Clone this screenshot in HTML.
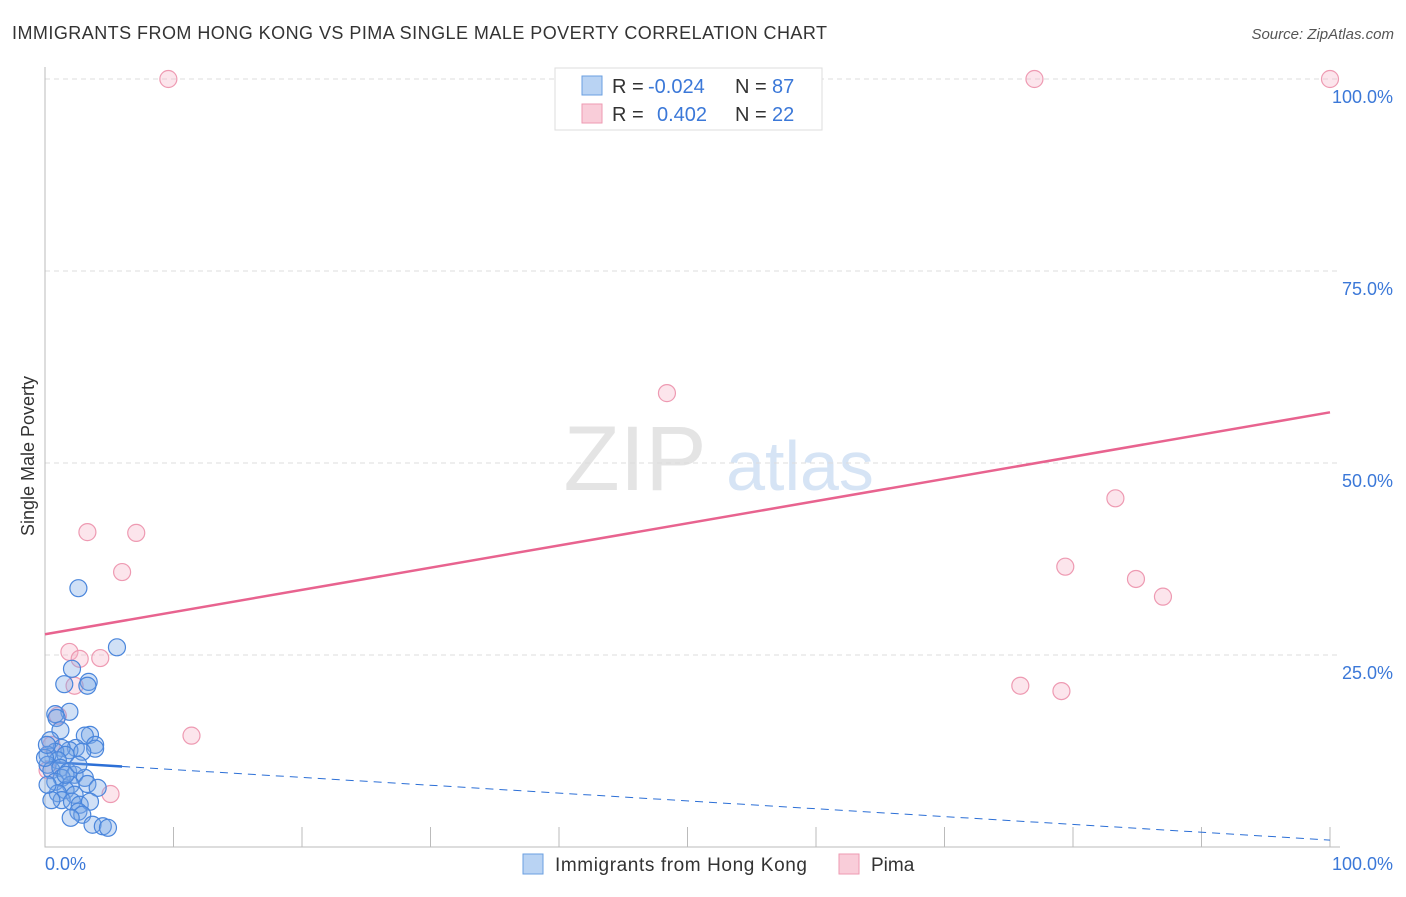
<!DOCTYPE html>
<html><head><meta charset="utf-8"><style>
body{margin:0;background:#fff;font-family:"Liberation Sans",sans-serif;}
svg text{font-family:"Liberation Sans",sans-serif;}
</style></head><body>
<svg width="1406" height="892" viewBox="0 0 1406 892">
<text x="12" y="39" font-size="18" fill="#333" textLength="815">IMMIGRANTS FROM HONG KONG VS PIMA SINGLE MALE POVERTY CORRELATION CHART</text>
<text x="1394" y="39" font-size="15" fill="#555" font-style="italic" text-anchor="end">Source: ZipAtlas.com</text>
<text x="635" y="490" font-size="92" fill="#e4e4e4" font-family="Liberation Serif" text-anchor="middle">ZIP</text>
<text x="800" y="490" font-size="70" fill="#d6e4f5" text-anchor="middle">atlas</text>
<g id="grid"></g>
<g id="axes"></g>
<g id="marks"></g>
<text transform="translate(34,456) rotate(-90)" font-size="18" fill="#333" text-anchor="middle">Single Male Poverty</text>
<g>
<rect x="555" y="68" width="267" height="62" fill="#fff" stroke="#ddd"/>
<rect x="582" y="76" width="20" height="19" fill="#b9d3f3" stroke="#6a9fe0"/>
<rect x="582" y="104" width="20" height="19" fill="#f9cdd9" stroke="#ee9ab2"/>
<text x="612" y="93" font-size="20" fill="#333">R = <tspan x="648" fill="#3b78d8">-0.024</tspan><tspan x="735">N = </tspan><tspan x="772" fill="#3b78d8">87</tspan></text>
<text x="612" y="121" font-size="20" fill="#333">R = <tspan x="657" fill="#3b78d8">0.402</tspan><tspan x="735">N = </tspan><tspan x="772" fill="#3b78d8">22</tspan></text>
</g>
<g>
<rect x="523" y="854" width="20" height="20" fill="#b9d3f3" stroke="#6a9fe0"/>
<text x="555" y="871" font-size="19" fill="#333" textLength="252">Immigrants from Hong Kong</text>
<rect x="839" y="854" width="20" height="20" fill="#f9cdd9" stroke="#ee9ab2"/>
<text x="871" y="871" font-size="19" fill="#333">Pima</text>
</g>
</svg>
<script>
const yTicks=[25,50,75,100];
const yTickLabels=["25.0%","50.0%","75.0%","100.0%"];
const xTickLabels=["0.0%","100.0%"];
const blueX=[2.6,5.6,2.1,1.5,3.4,3.3,1.9,0.8,0.9,1.2,0.4,3.5,3.1,3.9,3.9,2.4,1.9,1.3,0.8,0.2,2.9,1.6,1.0,0.2,0.5,1.2,1.8,2.3,3.1,1.3,0.8,2.0,3.3,4.1,1.6,1.0,2.3,1.3,2.1,2.7,3.5,2.6,2.9,2.0,3.7,4.5,4.9,0,0.15,0.5,0.2,1.6,2.6];
const blueY=[33.7,26.0,23.2,21.2,21.5,21.0,17.6,17.3,16.8,15.2,13.9,14.6,14.5,13.3,12.8,12.9,12.6,12.9,12.4,12.0,12.4,12.0,11.3,10.7,10.0,10.3,9.8,9.4,9.0,9.0,8.5,8.1,8.2,7.7,7.4,7.0,6.8,6.1,5.9,5.5,5.9,4.6,4.2,3.8,2.9,2.7,2.5,11.6,13.3,6.1,8.1,9.4,10.7];
const pinkX=[9.6,77.0,100,48.4,83.3,3.3,7.1,6.0,79.4,84.9,87.0,1.9,2.7,4.3,2.3,75.9,79.1,11.4,1.0,5.1,0.5,0.2];
const pinkY=[100,100,100,59.1,45.4,41.0,40.9,35.8,36.5,34.9,32.6,25.4,24.5,24.6,21.0,21.0,20.3,14.5,17.1,6.9,13.3,10.0];
const blueTrend=[11.1,0.9];
const pinkTrend=[27.7,56.6];
const NS="http://www.w3.org/2000/svg";
const X0=45,X1=1330,Y0=847,Y1=79;
const xs=v=>X0+(X1-X0)*v/100, ys=v=>Y0-(Y0-Y1)*v/100;
function mk(parent,tag,attrs){const e=document.createElementNS(NS,tag);for(const k in attrs)e.setAttribute(k,attrs[k]);document.getElementById(parent).appendChild(e);return e;}
yTicks.forEach((t,i)=>{
 const g=mk('grid','line',{x1:X0,x2:X1+10,y1:ys(t),y2:ys(t),stroke:'#ddd','stroke-dasharray':'5,4'});
 
 
 const l=mk('axes','text',{x:1393,y:ys(t)+24,'font-size':18,fill:'#3b78d8','text-anchor':'end'});
 l.textContent=yTickLabels[i];
 
 
});
const ax=mk('axes','path',{d:`M${X0} 67V${Y0}H${X1+10}`,stroke:'#bbb',fill:'none'});


for(let i=1;i<=10;i++){const t=mk('axes','line',{x1:xs(i*10),x2:xs(i*10),y1:827,y2:Y0,stroke:'#bbb'});
 
 }
[[0,'start',45],[100,'end',1393]].forEach((a,i)=>{const l=mk('axes','text',{x:a[2],y:870,'font-size':18,fill:'#3b78d8','text-anchor':a[1]});l.textContent=xTickLabels[i];
 
 });
const pl=mk('marks','line',{x1:xs(0),y1:ys(pinkTrend[0]),x2:xs(100),y2:ys(pinkTrend[1]),stroke:'#e8638f','stroke-width':2.5});


const bt=v=>blueTrend[0]+(blueTrend[1]-blueTrend[0])*v/100;
const bl=mk('marks','line',{x1:xs(0),y1:ys(bt(0)),x2:xs(6),y2:ys(bt(6)),stroke:'#2c6fd6','stroke-width':2.5});


const bd=mk('marks','line',{x1:xs(6),y1:ys(bt(6)),x2:xs(100),y2:ys(bt(100)),stroke:'#2c6fd6','stroke-width':1,'stroke-dasharray':'8,6'});


pinkX.forEach((x,i)=>{const c=mk('marks','circle',{cx:xs(x),cy:ys(pinkY[i]),r:8.5,fill:'rgba(246,180,200,0.35)',stroke:'#ee9ab2','stroke-width':1.2});
 
 });
blueX.forEach((x,i)=>{const c=mk('marks','circle',{cx:xs(x),cy:ys(blueY[i]),r:8.5,fill:'rgba(120,165,230,0.35)',stroke:'#4a86dc','stroke-width':1.2});
 
 });
</script>
</body></html>
